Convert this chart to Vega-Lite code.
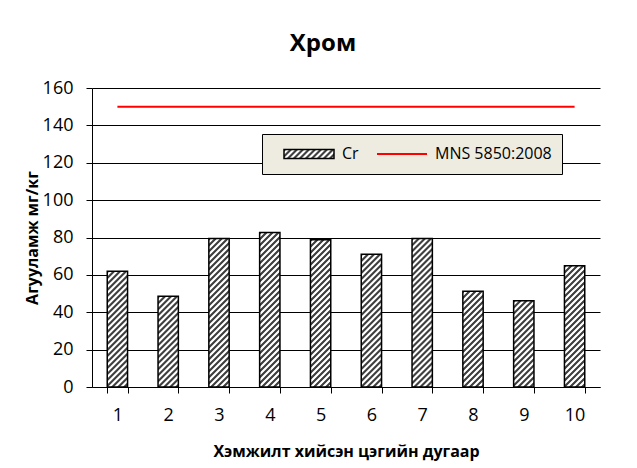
{
  "$schema": "https://vega.github.io/schema/vega-lite/v6.json",
  "width": 508,
  "height": 299,
  "autosize": {"type": "none"},
  "padding": {"left": 92, "top": 88, "right": 37, "bottom": 81},
  "background": "#ffffff",
  "params": [
    {
      "name": "hatchStops",
      "value": [
        {"offset": 0, "color": "#404040"}, {"offset": 0.01, "color": "#404040"}, {"offset": 0.0167, "color": "#ffffff"}, {"offset": 0.0267, "color": "#ffffff"},
        {"offset": 0.0333, "color": "#404040"}, {"offset": 0.0433, "color": "#404040"}, {"offset": 0.05, "color": "#ffffff"}, {"offset": 0.06, "color": "#ffffff"},
        {"offset": 0.0667, "color": "#404040"}, {"offset": 0.0767, "color": "#404040"}, {"offset": 0.0833, "color": "#ffffff"}, {"offset": 0.0933, "color": "#ffffff"},
        {"offset": 0.1, "color": "#404040"}, {"offset": 0.11, "color": "#404040"}, {"offset": 0.1167, "color": "#ffffff"}, {"offset": 0.1267, "color": "#ffffff"},
        {"offset": 0.1333, "color": "#404040"}, {"offset": 0.1433, "color": "#404040"}, {"offset": 0.15, "color": "#ffffff"}, {"offset": 0.16, "color": "#ffffff"},
        {"offset": 0.1667, "color": "#404040"}, {"offset": 0.1767, "color": "#404040"}, {"offset": 0.1833, "color": "#ffffff"}, {"offset": 0.1933, "color": "#ffffff"},
        {"offset": 0.2, "color": "#404040"}, {"offset": 0.21, "color": "#404040"}, {"offset": 0.2167, "color": "#ffffff"}, {"offset": 0.2267, "color": "#ffffff"},
        {"offset": 0.2333, "color": "#404040"}, {"offset": 0.2433, "color": "#404040"}, {"offset": 0.25, "color": "#ffffff"}, {"offset": 0.26, "color": "#ffffff"},
        {"offset": 0.2667, "color": "#404040"}, {"offset": 0.2767, "color": "#404040"}, {"offset": 0.2833, "color": "#ffffff"}, {"offset": 0.2933, "color": "#ffffff"},
        {"offset": 0.3, "color": "#404040"}, {"offset": 0.31, "color": "#404040"}, {"offset": 0.3167, "color": "#ffffff"}, {"offset": 0.3267, "color": "#ffffff"},
        {"offset": 0.3333, "color": "#404040"}, {"offset": 0.3433, "color": "#404040"}, {"offset": 0.35, "color": "#ffffff"}, {"offset": 0.36, "color": "#ffffff"},
        {"offset": 0.3667, "color": "#404040"}, {"offset": 0.3767, "color": "#404040"}, {"offset": 0.3833, "color": "#ffffff"}, {"offset": 0.3933, "color": "#ffffff"},
        {"offset": 0.4, "color": "#404040"}, {"offset": 0.41, "color": "#404040"}, {"offset": 0.4167, "color": "#ffffff"}, {"offset": 0.4267, "color": "#ffffff"},
        {"offset": 0.4333, "color": "#404040"}, {"offset": 0.4433, "color": "#404040"}, {"offset": 0.45, "color": "#ffffff"}, {"offset": 0.46, "color": "#ffffff"},
        {"offset": 0.4667, "color": "#404040"}, {"offset": 0.4767, "color": "#404040"}, {"offset": 0.4833, "color": "#ffffff"}, {"offset": 0.4933, "color": "#ffffff"},
        {"offset": 0.5, "color": "#404040"}, {"offset": 0.51, "color": "#404040"}, {"offset": 0.5167, "color": "#ffffff"}, {"offset": 0.5267, "color": "#ffffff"},
        {"offset": 0.5333, "color": "#404040"}, {"offset": 0.5433, "color": "#404040"}, {"offset": 0.55, "color": "#ffffff"}, {"offset": 0.56, "color": "#ffffff"},
        {"offset": 0.5667, "color": "#404040"}, {"offset": 0.5767, "color": "#404040"}, {"offset": 0.5833, "color": "#ffffff"}, {"offset": 0.5933, "color": "#ffffff"},
        {"offset": 0.6, "color": "#404040"}, {"offset": 0.61, "color": "#404040"}, {"offset": 0.6167, "color": "#ffffff"}, {"offset": 0.6267, "color": "#ffffff"},
        {"offset": 0.6333, "color": "#404040"}, {"offset": 0.6433, "color": "#404040"}, {"offset": 0.65, "color": "#ffffff"}, {"offset": 0.66, "color": "#ffffff"},
        {"offset": 0.6667, "color": "#404040"}, {"offset": 0.6767, "color": "#404040"}, {"offset": 0.6833, "color": "#ffffff"}, {"offset": 0.6933, "color": "#ffffff"},
        {"offset": 0.7, "color": "#404040"}, {"offset": 0.71, "color": "#404040"}, {"offset": 0.7167, "color": "#ffffff"}, {"offset": 0.7267, "color": "#ffffff"},
        {"offset": 0.7333, "color": "#404040"}, {"offset": 0.7433, "color": "#404040"}, {"offset": 0.75, "color": "#ffffff"}, {"offset": 0.76, "color": "#ffffff"},
        {"offset": 0.7667, "color": "#404040"}, {"offset": 0.7767, "color": "#404040"}, {"offset": 0.7833, "color": "#ffffff"}, {"offset": 0.7933, "color": "#ffffff"},
        {"offset": 0.8, "color": "#404040"}, {"offset": 0.81, "color": "#404040"}, {"offset": 0.8167, "color": "#ffffff"}, {"offset": 0.8267, "color": "#ffffff"},
        {"offset": 0.8333, "color": "#404040"}, {"offset": 0.8433, "color": "#404040"}, {"offset": 0.85, "color": "#ffffff"}, {"offset": 0.86, "color": "#ffffff"},
        {"offset": 0.8667, "color": "#404040"}, {"offset": 0.8767, "color": "#404040"}, {"offset": 0.8833, "color": "#ffffff"}, {"offset": 0.8933, "color": "#ffffff"},
        {"offset": 0.9, "color": "#404040"}, {"offset": 0.91, "color": "#404040"}, {"offset": 0.9167, "color": "#ffffff"}, {"offset": 0.9267, "color": "#ffffff"},
        {"offset": 0.9333, "color": "#404040"}, {"offset": 0.9433, "color": "#404040"}, {"offset": 0.95, "color": "#ffffff"}, {"offset": 0.96, "color": "#ffffff"},
        {"offset": 0.9667, "color": "#404040"}, {"offset": 0.9767, "color": "#404040"}, {"offset": 0.9833, "color": "#ffffff"}, {"offset": 0.9933, "color": "#ffffff"},
        {"offset": 1, "color": "#404040"}
      ]
    }
  ],
  "datasets": {
    "chromium": [
      {"sample": 1, "Cr": 62.0},
      {"sample": 2, "Cr": 48.5},
      {"sample": 3, "Cr": 79.5},
      {"sample": 4, "Cr": 82.7},
      {"sample": 5, "Cr": 78.8},
      {"sample": 6, "Cr": 71.1},
      {"sample": 7, "Cr": 79.5},
      {"sample": 8, "Cr": 51.3},
      {"sample": 9, "Cr": 46.2},
      {"sample": 10, "Cr": 64.9}
    ],
    "standard": [
      {"sample": 1, "limit": 150},
      {"sample": 10, "limit": 150}
    ]
  },
  "title": {
    "text": "Хром",
    "font": "Open Sans",
    "fontSize": 24,
    "fontWeight": "bold",
    "color": "#000000",
    "anchor": "middle",
    "frame": "group",
    "baseline": "alphabetic",
    "offset": 4,
    "dx": -23
  },
  "encoding": {
    "x": {
      "field": "sample",
      "type": "ordinal",
      "scale": {"domain": [1, 2, 3, 4, 5, 6, 7, 8, 9, 10], "paddingInner": 0.6, "paddingOuter": 0.3},
      "axis": {
        "title": "Хэмжилт хийсэн цэгийн дугаар",
        "labelAngle": 0,
        "tickBand": "extent",
        "tickSize": 6,
        "labelFontSize": 18,
        "labelPadding": 13,
        "titleFontSize": 16,
        "titlePadding": 19,
        "grid": false
      }
    }
  },
  "layer": [
    {
      "data": {"name": "chromium"},
      "mark": {
        "type": "bar",
        "strokeWidth": 1.5,
        "fill": {"expr": "{gradient: 'linear', x1: 0, y1: 0, x2: bandwidth('x') * 180 / (pow(bandwidth('x'), 2) + pow(scale('y', 0) - scale('y', datum.Cr), 2)), y2: (scale('y', 0) - scale('y', datum.Cr)) * 180 / (pow(bandwidth('x'), 2) + pow(scale('y', 0) - scale('y', datum.Cr), 2)), stops: hatchStops}"}
      },
      "encoding": {
        "y": {
          "field": "Cr",
          "type": "quantitative",
          "scale": {"domain": [0, 160], "nice": false},
          "axis": {
            "title": "Агууламж мг/кг",
            "values": [0, 20, 40, 60, 80, 100, 120, 140, 160],
            "labelOverlap": false,
            "grid": true,
            "tickSize": 6,
            "labelFontSize": 18,
            "labelPadding": 13,
            "titleFontSize": 16,
            "titlePadding": 2
          }
        },
        "stroke": {
          "datum": "Cr",
          "type": "nominal",
          "scale": {"domain": ["Cr", "MNS 5850:2008"], "range": ["#000000", "#ff0000"]},
          "legend": {
            "title": null,
            "orient": "none",
            "legendX": 170,
            "legendY": 46,
            "direction": "horizontal",
            "columns": 2,
            "fillColor": "#eeece1",
            "strokeColor": "#000000",
            "padding": 10,
            "symbolSize": 2500,
            "clipHeight": 20,
            "symbolOffset": 29,
            "labelOffset": 25,
            "columnPadding": 6,
            "labelFont": "Open Sans",
            "labelFontSize": 16,
            "labelColor": "#000000",
            "encode": {
              "symbols": {
                "update": {
                  "shape": {"signal": "datum.value === 'Cr' ? 'M-1,-0.18H1V0.18H-1Z' : 'M-1,0H1'"},
                  "fill": {"signal": "datum.value === 'Cr' ? {gradient: 'linear', x1: 0, y1: 0, x2: 3.49, y2: 0.63, stops: hatchStops} : 'transparent'"},
                  "strokeWidth": {"signal": "datum.value === 'Cr' ? 1.5 : 2"},
                  "opacity": {"value": 1}
                }
              }
            }
          }
        }
      }
    },
    {
      "data": {"name": "standard"},
      "mark": {"type": "line", "strokeWidth": 2},
      "encoding": {
        "y": {
          "field": "limit",
          "type": "quantitative",
          "axis": {
            "title": "Агууламж мг/кг",
            "values": [0, 20, 40, 60, 80, 100, 120, 140, 160],
            "labelOverlap": false,
            "grid": true,
            "tickSize": 6,
            "labelFontSize": 18,
            "labelPadding": 13,
            "titleFontSize": 16,
            "titlePadding": 2
          }
        },
        "stroke": {
          "datum": "MNS 5850:2008",
          "type": "nominal",
          "legend": {
            "title": null,
            "orient": "none",
            "legendX": 170,
            "legendY": 46,
            "direction": "horizontal",
            "columns": 2,
            "fillColor": "#eeece1",
            "strokeColor": "#000000",
            "padding": 10,
            "symbolSize": 2500,
            "clipHeight": 20,
            "symbolOffset": 29,
            "labelOffset": 25,
            "columnPadding": 6,
            "labelFont": "Open Sans",
            "labelFontSize": 16,
            "labelColor": "#000000",
            "encode": {
              "symbols": {
                "update": {
                  "shape": {"signal": "datum.value === 'Cr' ? 'M-1,-0.18H1V0.18H-1Z' : 'M-1,0H1'"},
                  "fill": {"signal": "datum.value === 'Cr' ? {gradient: 'linear', x1: 0, y1: 0, x2: 3.49, y2: 0.63, stops: hatchStops} : 'transparent'"},
                  "strokeWidth": {"signal": "datum.value === 'Cr' ? 1.5 : 2"},
                  "opacity": {"value": 1}
                }
              }
            }
          }
        }
      }
    }
  ],
  "config": {
    "font": "Open Sans",
    "view": {"stroke": null},
    "axis": {
      "domainColor": "#000000",
      "tickColor": "#000000",
      "gridColor": "#000000",
      "gridOpacity": 1,
      "labelColor": "#000000",
      "titleColor": "#000000",
      "labelFont": "Open Sans",
      "titleFont": "Open Sans",
      "titleFontWeight": "bold"
    }
  }
}
